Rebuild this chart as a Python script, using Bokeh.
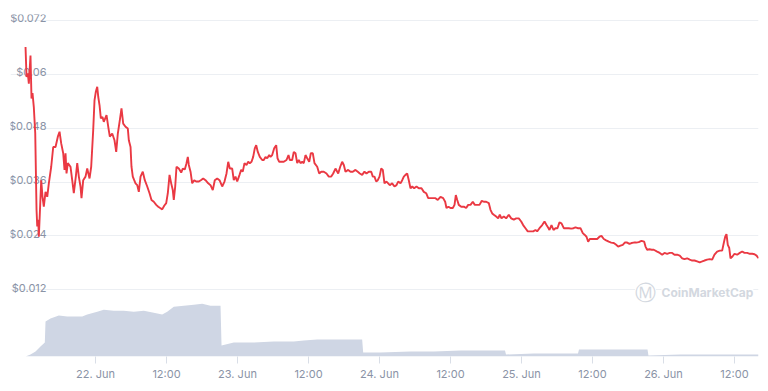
import pandas as pd
from bokeh.plotting import figure
from bokeh.models import Range1d, FixedTicker, CustomJSTickFormatter, Grid, Label
from bokeh.embed import file_html
from bokeh.resources import INLINE

START = pd.Timestamp("2021-06-21 12:00")
RANGE_START_HOURS = -2.37
END_HOURS = 124.06

# price series: hours since START, price in USD
price_hours = [
    0.17, 0.34, 0.56, 0.73, 1.01, 1.18, 1.35, 1.57, 1.81, 2.03,
    2.15, 2.32, 2.42, 2.59, 2.82, 3.04, 3.26, 3.55, 3.84, 4.11,
    4.51, 4.85, 5.24, 5.63, 5.92, 6.20, 6.54, 6.76, 6.93, 7.10,
    7.32, 7.77, 8.06, 8.33, 8.67, 8.91, 9.18, 9.46, 9.63, 9.92,
    10.31, 10.60, 10.99, 11.27, 11.61, 11.83, 12.05, 12.29, 12.46, 12.68,
    12.90, 13.18, 13.40, 13.86, 14.20, 14.42, 14.82, 15.21, 15.50, 15.77,
    16.11, 16.39, 16.68, 17.07, 17.46, 17.63, 17.92, 18.08, 18.30, 18.54,
    18.76, 19.05, 19.32, 19.61, 19.99, 20.33, 20.74, 21.13, 21.46, 21.85,
    22.26, 22.60, 22.93, 23.27, 23.61, 23.95, 24.22, 24.51, 24.79, 25.06,
    25.23, 25.47, 25.69, 26.08, 26.48, 26.75, 27.09, 27.38, 27.60, 27.77,
    28.06, 28.34, 28.68, 29.02, 29.46, 29.80, 30.20, 30.59, 31.05, 31.44,
    31.82, 32.16, 32.57, 32.96, 33.41, 33.80, 34.14, 34.43, 34.70, 35.10,
    35.37, 35.66, 35.95, 36.34, 36.62, 36.89, 37.18, 37.52, 37.81, 38.08,
    38.37, 38.65, 38.92, 39.16, 39.43, 39.77, 40.17, 40.44, 40.73, 41.02,
    41.36, 41.58, 41.86, 42.20, 42.54, 42.76, 43.05, 43.39, 43.82, 44.28,
    44.62, 44.84, 45.24, 45.51, 45.80, 46.09, 46.36, 46.65, 46.93, 47.20,
    47.49, 47.78, 48.12, 48.39, 48.73, 49.01, 49.47, 49.81, 50.15, 50.59,
    51.04, 51.43, 51.84, 52.17, 52.56, 53.02, 53.36, 53.69, 53.97, 54.25,
    54.71, 55.10, 55.49, 55.94, 56.33, 56.67, 57.07, 57.46, 57.80, 58.19,
    58.60, 58.87, 59.15, 59.44, 59.71, 60.00, 60.29, 60.56, 60.84, 61.18,
    61.47, 61.74, 62.14, 62.53, 62.87, 63.16, 63.55, 63.84, 64.11, 64.39,
    64.68, 64.95, 65.24, 65.53, 65.86, 66.25, 66.64, 67.10, 67.49, 67.89,
    68.23, 68.62, 69.01, 69.46, 69.85, 70.31, 70.76, 71.10, 71.32, 71.66,
    72.00, 72.39, 72.68, 72.90, 73.14, 73.40, 73.81, 74.25, 74.65, 74.99,
    75.38, 75.77, 76.11, 76.51, 76.90, 77.29, 77.63, 78.03, 78.47, 78.76,
    79.05, 79.32, 79.72, 80.06, 80.33, 80.62, 81.01, 81.41, 81.85, 82.26,
    82.70, 83.10, 83.54, 83.95, 84.28, 84.67, 85.06, 85.52, 85.98, 86.36,
    86.65, 87.04, 87.50, 87.89, 88.23, 88.57, 88.73, 89.07, 89.41, 89.74,
    90.08, 90.42, 90.76, 91.15, 91.55, 91.99, 92.40, 92.79, 93.13, 93.51,
    93.97, 94.36, 94.70, 94.99, 95.27, 95.54, 95.95, 96.39, 96.79, 97.18,
    97.52, 97.91, 98.31, 98.75, 99.16, 99.60, 100.01, 100.34, 100.73, 101.12,
    101.46, 101.86, 102.25, 102.59, 102.98, 103.38, 103.82, 104.28, 104.74, 104.96,
    105.24, 105.63, 106.03, 106.36, 106.93, 107.37, 107.78, 108.17, 108.62, 109.06,
    109.47, 109.86, 110.31, 110.75, 111.16, 111.55, 112.00, 112.44, 112.85, 113.24,
    113.69, 114.13, 114.54, 114.93, 115.38, 115.82, 116.23, 116.62, 117.07, 117.51,
    117.92, 118.19, 118.43, 118.65, 118.87, 119.11, 119.33, 119.66, 120.00, 120.46,
    120.90, 121.30, 121.69, 122.15, 122.59, 123.00, 123.39, 123.73, 124.07,
]
price_usd = [
    0.0661, 0.0594, 0.0602, 0.0579, 0.0642, 0.0546, 0.0558, 0.0527, 0.0469, 0.0298,
    0.0261, 0.0276, 0.0238, 0.0291, 0.0364, 0.0327, 0.0305, 0.0338, 0.0327, 0.0357,
    0.0394, 0.0438, 0.0438, 0.0461, 0.0472, 0.0446, 0.0424, 0.0387, 0.0424, 0.0379,
    0.0402, 0.0394, 0.0364, 0.0335, 0.0372, 0.0402, 0.0372, 0.0350, 0.0324, 0.0364,
    0.0372, 0.0390, 0.0368, 0.0394, 0.0476, 0.0542, 0.0561, 0.0572, 0.0550, 0.0531,
    0.0502, 0.0505, 0.0494, 0.0509, 0.0479, 0.0461, 0.0468, 0.0453, 0.0427, 0.0468,
    0.0498, 0.0524, 0.0490, 0.0483, 0.0479, 0.0453, 0.0438, 0.0394, 0.0372, 0.0364,
    0.0357, 0.0353, 0.0338, 0.0372, 0.0383, 0.0364, 0.0350, 0.0335, 0.0320, 0.0316,
    0.0309, 0.0305, 0.0302, 0.0299, 0.0307, 0.0313, 0.0335, 0.0376, 0.0357, 0.0342,
    0.0320, 0.0350, 0.0394, 0.0390, 0.0381, 0.0390, 0.0388, 0.0402, 0.0416, 0.0398,
    0.0383, 0.0357, 0.0364, 0.0361, 0.0361, 0.0364, 0.0368, 0.0364, 0.0357, 0.0353,
    0.0342, 0.0364, 0.0368, 0.0364, 0.0350, 0.0361, 0.0379, 0.0405, 0.0390, 0.0390,
    0.0364, 0.0372, 0.0361, 0.0376, 0.0387, 0.0383, 0.0402, 0.0398, 0.0405, 0.0402,
    0.0405, 0.0416, 0.0435, 0.0442, 0.0427, 0.0416, 0.0409, 0.0409, 0.0416, 0.0413,
    0.0420, 0.0416, 0.0420, 0.0435, 0.0442, 0.0413, 0.0405, 0.0405, 0.0405, 0.0409,
    0.0420, 0.0409, 0.0409, 0.0427, 0.0424, 0.0402, 0.0409, 0.0402, 0.0405, 0.0402,
    0.0420, 0.0413, 0.0405, 0.0424, 0.0424, 0.0402, 0.0394, 0.0379, 0.0383, 0.0383,
    0.0379, 0.0372, 0.0372, 0.0379, 0.0390, 0.0379, 0.0394, 0.0405, 0.0398, 0.0383,
    0.0387, 0.0383, 0.0383, 0.0387, 0.0383, 0.0379, 0.0376, 0.0383, 0.0379, 0.0383,
    0.0383, 0.0372, 0.0372, 0.0361, 0.0364, 0.0372, 0.0390, 0.0387, 0.0357, 0.0361,
    0.0357, 0.0353, 0.0357, 0.0350, 0.0353, 0.0361, 0.0357, 0.0364, 0.0372, 0.0376,
    0.0379, 0.0364, 0.0346, 0.0350, 0.0346, 0.0350, 0.0346, 0.0346, 0.0338, 0.0335,
    0.0324, 0.0324, 0.0324, 0.0324, 0.0320, 0.0327, 0.0324, 0.0316, 0.0302, 0.0305,
    0.0302, 0.0302, 0.0309, 0.0331, 0.0320, 0.0309, 0.0305, 0.0305, 0.0302, 0.0309,
    0.0309, 0.0316, 0.0309, 0.0309, 0.0309, 0.0318, 0.0316, 0.0316, 0.0313, 0.0298,
    0.0290, 0.0287, 0.0283, 0.0279, 0.0287, 0.0279, 0.0283, 0.0279, 0.0287, 0.0279,
    0.0276, 0.0279, 0.0279, 0.0272, 0.0264, 0.0257, 0.0250, 0.0250, 0.0250, 0.0253,
    0.0250, 0.0257, 0.0264, 0.0272, 0.0264, 0.0257, 0.0253, 0.0264, 0.0253, 0.0257,
    0.0257, 0.0270, 0.0268, 0.0257, 0.0257, 0.0257, 0.0256, 0.0257, 0.0259, 0.0257,
    0.0257, 0.0246, 0.0242, 0.0238, 0.0227, 0.0233, 0.0233, 0.0233, 0.0233, 0.0238,
    0.0240, 0.0233, 0.0230, 0.0227, 0.0225, 0.0224, 0.0220, 0.0216, 0.0218, 0.0220,
    0.0225, 0.0225, 0.0222, 0.0224, 0.0225, 0.0225, 0.0226, 0.0229, 0.0227, 0.0216,
    0.0209, 0.0210, 0.0209, 0.0209, 0.0205, 0.0202, 0.0198, 0.0202, 0.0200, 0.0202,
    0.0202, 0.0198, 0.0198, 0.0196, 0.0190, 0.0188, 0.0190, 0.0187, 0.0185, 0.0185,
    0.0183, 0.0181, 0.0183, 0.0185, 0.0187, 0.0188, 0.0187, 0.0198, 0.0205, 0.0207,
    0.0207, 0.0224, 0.0238, 0.0244, 0.0220, 0.0213, 0.0190, 0.0194, 0.0200, 0.0198,
    0.0202, 0.0205, 0.0202, 0.0202, 0.0200, 0.0200, 0.0199, 0.0196, 0.0190,
]

# 24h volume series (millions USD, estimated): hours since START
volume_hours = [
    0.17, 1.01, 1.86, 2.70, 3.43, 3.55, 4.39, 5.80, 7.22, 8.62,
    9.75, 10.60, 12.29, 13.40, 15.09, 16.78, 18.47, 20.16, 21.85, 23.27,
    24.12, 25.23, 26.92, 28.61, 30.03, 31.44, 33.13, 33.30, 35.37, 38.75,
    42.13, 45.51, 47.20, 49.47, 57.07, 57.24, 60.17, 65.24, 69.18, 73.69,
    81.21, 81.38, 86.08, 93.55, 93.72, 105.30, 105.46, 110.87, 124.06,
]
volume_musd = [
    0.0, 0.2, 0.5, 1.0, 1.4, 3.5, 3.8, 4.1, 4.0, 4.0,
    4.0, 4.2, 4.5, 4.7, 4.6, 4.6, 4.5, 4.6, 4.4, 4.2,
    4.5, 5.0, 5.1, 5.2, 5.3, 5.1, 5.1, 1.1, 1.4, 1.4,
    1.5, 1.5, 1.6, 1.7, 1.7, 0.4, 0.4, 0.5, 0.5, 0.6,
    0.6, 0.2, 0.3, 0.3, 0.7, 0.7, 0.1, 0.2, 0.2,
]
VOLUME_AXIS_MAX = 34.3

y_ticks = [0.012, 0.024, 0.036, 0.048, 0.06, 0.072]
y_tick_labels = ["$0.012", "$0.024", "$0.036", "$0.048", "$0.06", "$0.072"]
x_tick_hours = [12, 24, 36, 48, 60, 72, 84, 96, 108, 120]

assert len(price_hours) == len(price_usd)
assert len(volume_hours) == len(volume_musd)

price_t = [START + pd.Timedelta(hours=h) for h in price_hours]
vol_t = [START + pd.Timedelta(hours=h) for h in volume_hours]
tick_ms = [float((START + pd.Timedelta(hours=h)).value // 10**6) for h in x_tick_hours]

p = figure(width=760, height=383, x_axis_type="datetime", y_axis_location=None,
           output_backend="svg", toolbar_location=None,
           x_range=Range1d(START + pd.Timedelta(hours=RANGE_START_HOURS),
                           START + pd.Timedelta(hours=END_HOURS)),
           y_range=Range1d(-0.00289, 0.07333),
           min_border_left=10, min_border_right=2, min_border_top=14, min_border_bottom=26)
p.outline_line_color = None
p.background_fill_color = "white"
p.border_fill_color = "white"
for g in p.grid:
    g.visible = False
p.extra_y_ranges = {"vol": Range1d(0, VOLUME_AXIS_MAX)}

grid = Grid(dimension=1, ticker=FixedTicker(ticks=y_ticks), grid_line_color="#eceff3", grid_line_width=1)
p.add_layout(grid)

p.varea(x=vol_t, y1=[0] * len(vol_t), y2=volume_musd, y_range_name="vol", fill_color="#cfd6e4")

for tick, lab in zip(y_ticks, y_tick_labels):
    p.add_layout(Label(x=START, y=tick, text=lab, x_offset=22, y_offset=2,
                       text_align="right", text_baseline="alphabetic",
                       text_font="Inter", text_font_size="11px", text_color="#8a93a6",
                       level="underlay"))

p.line(x=price_t, y=price_usd, line_color="#ea3943", line_width=1.9)

ax = p.xaxis[0]
ax.ticker = FixedTicker(ticks=tick_ms)
ax.formatter = CustomJSTickFormatter(code="""
const d = new Date(tick);
const m = ["Jan","Feb","Mar","Apr","May","Jun","Jul","Aug","Sep","Oct","Nov","Dec"];
const h = d.getUTCHours();
if (h === 0) { return d.getUTCDate() + ". " + m[d.getUTCMonth()]; }
return String(h).padStart(2, "0") + ":" + String(d.getUTCMinutes()).padStart(2, "0");
""")
ax.axis_line_color = None
ax.major_tick_line_color = "#d9dee7"
ax.major_tick_in = 0
ax.major_tick_out = 7
ax.minor_tick_line_color = None
ax.major_label_standoff = 3
ax.major_label_text_font = "Inter"
ax.major_label_text_font_size = "11px"
ax.major_label_text_color = "#8a93a6"

wm_icon = Label(x=645, y=292, x_units="canvas", y_units="canvas", text="Ⓜ",
                text_align="center", text_baseline="middle", text_font="DejaVu Sans",
                text_font_size="21px", text_color="#d3d8e0",
                background_fill_color="white")
wm_text = Label(x=661, y=292, x_units="canvas", y_units="canvas", text="CoinMarketCap",
                text_align="left", text_baseline="middle", text_font="Inter",
                text_font_size="12px", text_font_style="bold", text_color="#d3d8e0",
                background_fill_color="white")
p.add_layout(wm_icon)
p.add_layout(wm_text)

open("out.html", "w").write(file_html(p, INLINE))
